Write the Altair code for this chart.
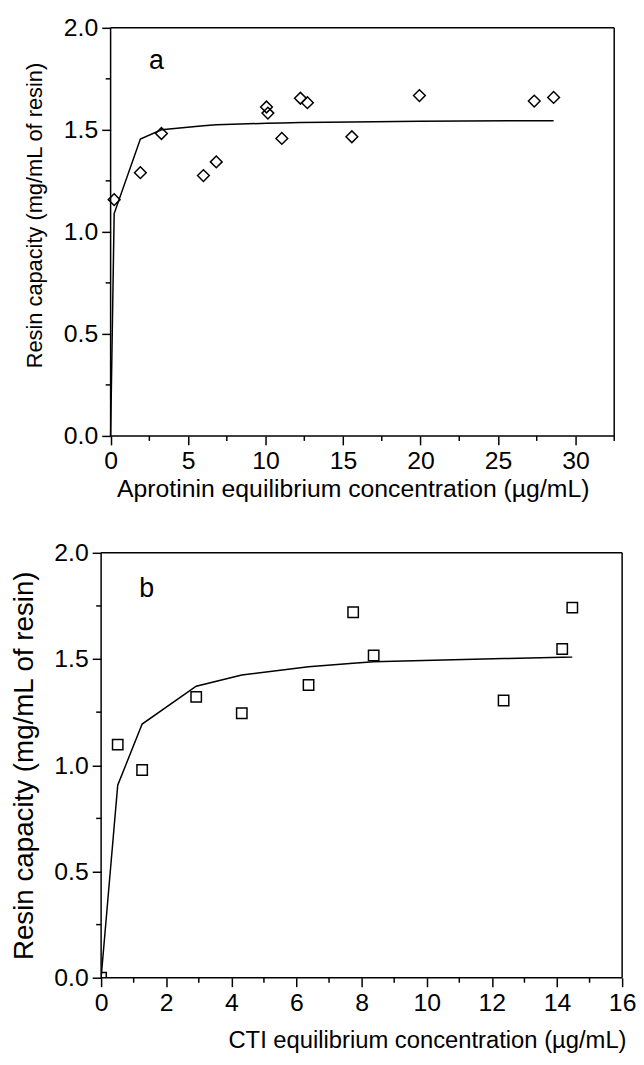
import altair as alt
import pandas as pd

FONT = "Liberation Sans"

# ---------------- panel a : aprotinin ----------------
APR_X = [0.23, 1.92, 3.28, 5.99, 6.82, 10.06, 10.15, 11.05, 12.25, 12.70, 15.57, 19.93, 27.34, 28.59]
APR_Y = [1.158, 1.29, 1.482, 1.276, 1.343, 1.612, 1.582, 1.458, 1.655, 1.633, 1.466, 1.668, 1.641, 1.659]
APR_FIT_X = [0, 0.23, 1.92, 3.28, 5.99, 6.82, 10.06, 11.05, 12.25, 15.57, 19.93, 27.34, 28.59]
APR_FIT_Y = [0, 1.09, 1.455, 1.50, 1.52, 1.525, 1.532, 1.534, 1.536, 1.539, 1.542, 1.545, 1.545]

# ---------------- panel b : CTI ----------------
CTI_X = [0, 0.51, 1.26, 2.92, 4.32, 6.37, 7.74, 8.37, 12.36, 14.16, 14.47]
CTI_Y = [0, 1.097, 0.978, 1.322, 1.245, 1.378, 1.720, 1.517, 1.305, 1.547, 1.742]
CTI_FIT_X = [0, 0.51, 1.26, 2.92, 4.32, 6.37, 7.74, 8.37, 12.36, 14.16, 14.47]
CTI_FIT_Y = [0, 0.906, 1.194, 1.372, 1.425, 1.464, 1.480, 1.487, 1.502, 1.508, 1.509]

# ---------------- ticks / texts ----------------
Y_MAJOR = [0, 0.5, 1.0, 1.5, 2.0]
Y_MINOR = [0.25, 0.75, 1.25, 1.75]
A_X_MAJOR = [0, 5, 10, 15, 20, 25, 30]
A_X_MINOR = [2.5, 7.5, 12.5, 17.5, 22.5, 27.5, 32.5]
B_X_MAJOR = [0, 2, 4, 6, 8, 10, 12, 14, 16]
B_X_MINOR = [1, 3, 5, 7, 9, 11, 13, 15]
Y_TITLE = "Resin capacity (mg/mL of resin)"
A_X_TITLE = "Aprotinin equilibrium concentration (\u00b5g/mL)"
B_X_TITLE = "CTI equilibrium concentration (\u00b5g/mL)"
A_TAG = ["a"]
A_TAG_POS = [2.96, 1.80]
B_TAG = ["b"]
B_TAG_POS = [1.40, 1.79]


def panel(px, py, fx, fy, shape, size, xmin, xmax, xmajor, xminor, width, height,
          xtitle, xtitle_x, xtitle_pad, xtitle_size, ytitle_size, ytitle_pad,
          ytitle_y, yoffset, tag, tag_pos):
    xs = alt.Scale(domain=[xmin, xmax], nice=False, zero=False)
    ys = alt.Scale(domain=[0, 2], nice=False, zero=False)
    common = dict(domain=False, grid=False, ticks=True, tickColor="black", tickWidth=1.5,
                  tickSize=9, labelFont=FONT, labelFontSize=25, labelColor="black",
                  labelPadding=4, labelOverlap=False, labelFlush=False,
                  titleFont=FONT, titleFontWeight="normal", titleColor="black")
    xaxis = alt.Axis(values=xmajor, format="d",
                     titleFontSize=xtitle_size, titlePadding=xtitle_pad, titleX=xtitle_x,
                     **common)
    ykw = dict(values=Y_MAJOR, format=".1f",
               titleFontSize=ytitle_size, titlePadding=ytitle_pad, offset=yoffset, **common)
    if ytitle_y is not None:
        ykw["titleY"] = ytitle_y
    yaxis = alt.Axis(**ykw)

    X = alt.X("x:Q", scale=xs, axis=xaxis, title=xtitle)
    Y = alt.Y("y:Q", scale=ys, axis=yaxis, title=Y_TITLE)

    # frame (box) at the scale limits
    frame = pd.DataFrame({"x": [0, 0, 0, xmax], "x2": [xmax, xmax, 0, xmax],
                          "y": [0, 2, 0, 0], "y2": [0, 2, 2, 2]})
    frame_l = alt.Chart(frame).mark_rule(color="black", strokeWidth=1.5).encode(
        x=X, x2="x2:Q", y=Y, y2="y2:Q")

    # minor ticks (short, outward)
    x0px = -yoffset
    xminor_l = alt.Chart(pd.DataFrame({"x": xminor})).mark_rule(
        color="black", strokeWidth=1.5).encode(
        x=X, y=alt.value(height), y2=alt.value(height + 5))
    yminor_l = alt.Chart(pd.DataFrame({"y": Y_MINOR})).mark_rule(
        color="black", strokeWidth=1.5).encode(
        y=Y, x=alt.value(x0px - 5), x2=alt.value(x0px))

    line_l = alt.Chart(pd.DataFrame({"x": fx, "y": fy})).mark_line(
        color="black", strokeWidth=1.5, clip=True).encode(x=X, y=Y)
    pts_l = alt.Chart(pd.DataFrame({"x": px, "y": py})).mark_point(
        shape=shape, size=size, filled=False, color="black", strokeWidth=1.5,
        opacity=1, clip=True).encode(x=X, y=Y)
    tag_l = alt.Chart(pd.DataFrame({"x": [tag_pos[0]], "y": [tag_pos[1]], "t": tag})).mark_text(
        font=FONT, fontSize=27, color="black", align="center", baseline="alphabetic").encode(
        x=X, y=Y, text="t:N")
    return alt.layer(frame_l, xminor_l, yminor_l, line_l, pts_l, tag_l).properties(
        width=width, height=height)


a = panel(APR_X, APR_Y, APR_FIT_X, APR_FIT_Y, "diamond", 140, -0.613, 32.5, A_X_MAJOR, A_X_MINOR,
          518, 412, A_X_TITLE, 254, 3, 25, 22, 17, 189, -9.6, A_TAG, A_TAG_POS)
b = panel(CTI_X, CTI_Y, CTI_FIT_X, CTI_FIT_Y, "square", 110, 0, 16, B_X_MAJOR, B_X_MINOR,
          526, 429, B_X_TITLE, 329, 13, 24, 28, 16, None, 0, B_TAG, B_TAG_POS)

chart = alt.vconcat(a, b, spacing=40).properties(
    padding={"left": 2, "top": 3, "right": 0, "bottom": 0},
    background="white",
).configure_view(stroke=None)

chart.save("out.html", embed_options={"renderer": "svg", "actions": False})
